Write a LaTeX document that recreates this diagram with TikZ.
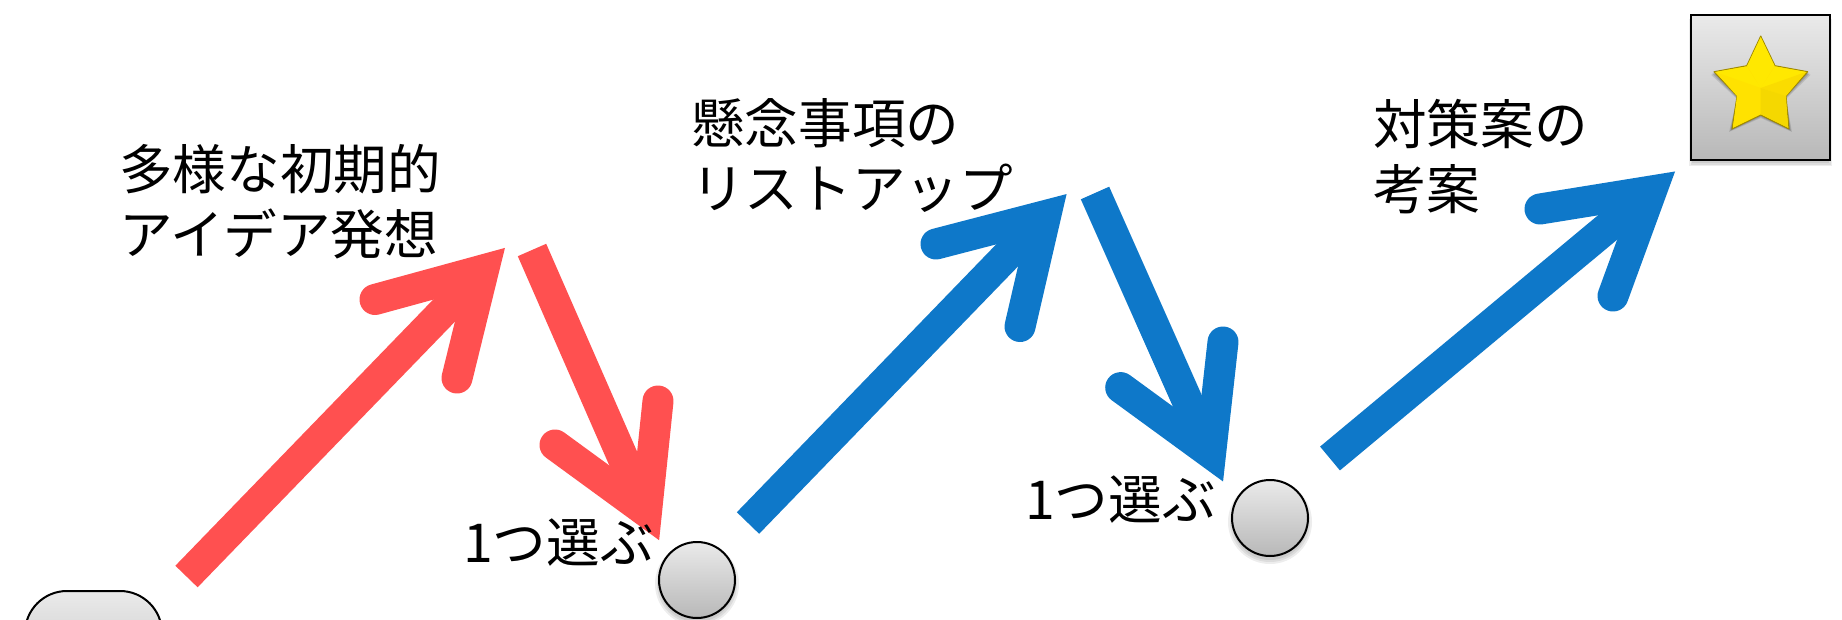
\documentclass[tikz,border=0pt]{standalone}
\usepackage{fontspec}
\newfontfamily\jpfont{Noto Sans CJK JP}
\definecolor{arrowred}{HTML}{FF5050}
\definecolor{arrowblue}{HTML}{0E78C9}
\definecolor{gtop}{HTML}{EAEAEA}
\definecolor{gbot}{HTML}{B8B8B8}
\definecolor{starbase}{HTML}{FFE200}
\definecolor{starlite}{HTML}{FFE800}
\definecolor{starmid}{HTML}{FADC00}
\definecolor{stardark}{HTML}{F5D800}
\definecolor{staredge}{HTML}{A08A00}
\tikzset{
  x=1pt,y=-1pt,
  shaft/.style={line width=31pt,line cap=butt},
  head/.style={line width=31pt,line cap=round,line join=miter,miter limit=10},
  label/.style={font=\jpfont\fontsize{53.6}{65}\selectfont,align=left,inner sep=0pt,anchor=west,text=black},
  soft/.style={fill=black,opacity=0.07,draw=none},
  blob/.style={circle,minimum size=76pt,inner sep=0pt,draw=black,line width=2pt,top color=gtop,bottom color=gbot},
  goalbox/.style={rectangle,minimum width=139pt,minimum height=145pt,inner sep=0pt,draw=black,line width=2pt,top color=gtop,bottom color=gbot},
}
\begin{document}
\begin{tikzpicture}
\useasboundingbox (0,0) rectangle (1842,619);
\fill[white] (0,0) rectangle (1842,619);
% start shape
\begin{scope}
\clip (0,0) rectangle (1842,619);
\shade[draw=black,line width=2pt,rounded corners=42pt,top color=gtop,bottom color=gbot] (25,591) rectangle (162,720);
\end{scope}
% coordinates
\coordinate (r1s) at (186.5,576.5); \coordinate (r1v) at (483.6,269.8); \coordinate (r1a) at (375,299.5); \coordinate (r1b) at (457,378);
\coordinate (r2s) at (532,250); \coordinate (r2v) at (646.5,511.8); \coordinate (r2a) at (555,445); \coordinate (r2b) at (658,401);
\coordinate (b1s) at (748,523); \coordinate (b1v) at (1045.7,215.5); \coordinate (b1a) at (936,244); \coordinate (b1b) at (1020,326.5);
\coordinate (b2s) at (1095,193); \coordinate (b2v) at (1210.6,453.2); \coordinate (b2a) at (1120.7,387.6); \coordinate (b2b) at (1223,342);
\coordinate (b3s) at (1330,458.5); \coordinate (b3v) at (1651.4,191); \coordinate (b3a) at (1540,209); \coordinate (b3b) at (1613,296);
% arrows
\draw[shaft,arrowred] (r1s) -- (r1v); \draw[head,arrowred] (r1a) -- (r1v) -- (r1b);
\draw[shaft,arrowred] (r2s) -- (r2v); \draw[head,arrowred] (r2a) -- (r2v) -- (r2b);
\draw[shaft,arrowblue] (b1s) -- (b1v); \draw[head,arrowblue] (b1a) -- (b1v) -- (b1b);
\draw[shaft,arrowblue] (b2s) -- (b2v); \draw[head,arrowblue] (b2a) -- (b2v) -- (b2b);
\draw[shaft,arrowblue] (b3s) -- (b3v); \draw[head,arrowblue] (b3a) -- (b3v) -- (b3b);
% shadows
\foreach \r in {38,40,42}{
  \fill[soft] (697,584) circle[radius=\r];
  \fill[soft] (1270,522) circle[radius=\r];
}
\foreach \d in {0,1.5,3}{
  \fill[soft] (1692-\d,19) rectangle (1829+\d,163+\d);
}
% circles and box
\node[blob] (c1) at (697,580) {};
\node[blob] (c2) at (1270,518) {};
\node[goalbox] (goal) at (1760.5,87.5) {};
% star
\foreach \d/\o in {3/0.10,2/0.12,1/0.15}{
  \fill[black,opacity=\o] (1760.7,36+\d) -- (1775,65.7+\d) -- (1807.7+\d,71.7+\d) -- (1786,96+\d) -- (1789+\d,129+\d) -- (1760.7,115+\d) -- (1732-\d,129+\d) -- (1737,96+\d) -- (1714-\d,71.7+\d) -- (1746.7,65.7+\d) -- cycle;
}
\fill[fill=starbase,draw=staredge,line width=1pt,line join=round]
  (1760.7,36) -- (1775,65.7) -- (1807.7,71.7) -- (1786,96) -- (1789,129) -- (1760.7,115) -- (1732,129) -- (1737,96) -- (1714,71.7) -- (1746.7,65.7) -- cycle;
\fill[starlite] (1760.7,37) -- (1774.5,65.7) -- (1760.7,88) -- (1747.2,65.7) -- cycle;
\fill[starlite] (1775,66.5) -- (1806,72) -- (1786,80) -- (1760.7,88) -- cycle;
\fill[starlite] (1746.7,66.5) -- (1715.5,72) -- (1735,80) -- (1760.7,88) -- cycle;
\fill[starbase] (1715.5,72) -- (1737,96) -- (1760.7,88) -- cycle;
\fill[starmid] (1806,72) -- (1786,96) -- (1760.7,88) -- cycle;
\fill[starbase] (1737,96) -- (1733,127.5) -- (1760.7,114) -- (1760.7,88) -- cycle;
\fill[stardark] (1786,96) -- (1788,127.5) -- (1760.7,114) -- (1760.7,88) -- cycle;
% labels
\node[label] (t1) at (119,202) {多様な初期的\\アイデア発想};
\node[label] (t2) at (691,155) {懸念事項の\\リストアップ};
\node[label] (t3) at (1373,157) {対策案の\\考案};
\node[label] (p1) at (463,543) {1つ選ぶ};
\node[label] (p2) at (1025,500) {1つ選ぶ};
\end{tikzpicture}
\end{document}
